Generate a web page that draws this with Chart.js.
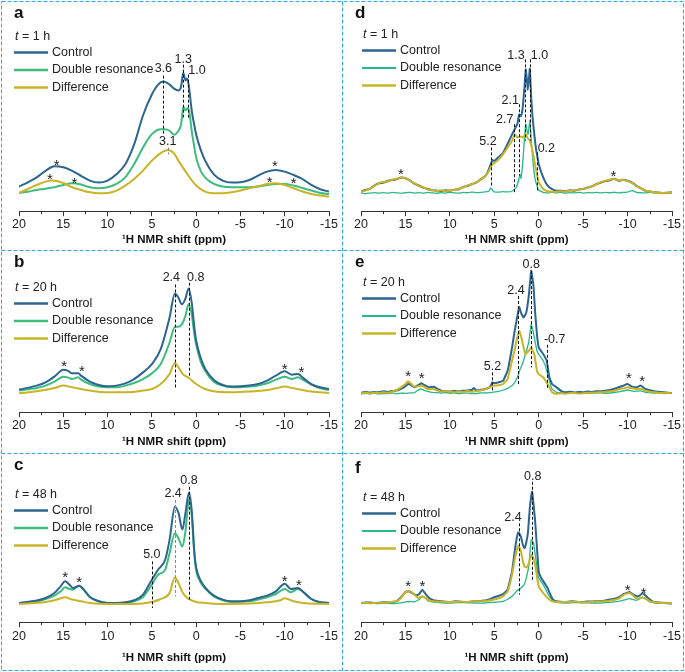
<!DOCTYPE html>
<html>
<head>
<meta charset="utf-8">
<script src="https://cdn.jsdelivr.net/npm/chart.js@4"></script>
<style>
  body { margin: 0; background: #fff; }
  #wrap { position: relative; width: 685px; height: 672px; }
  canvas, svg { position: absolute; left: 0; top: 0; }
</style>
</head>
<body>
<div id="wrap">
  <svg width="685" height="672">
    <g stroke="#29abe2" stroke-width="1" stroke-dasharray="4 2" fill="none">
      <rect x="1.5" y="1.5" width="682" height="669"/>
      <line x1="342.5" y1="1.5" x2="342.5" y2="670.5"/>
      <line x1="1.5" y1="250.5" x2="683.5" y2="250.5"/>
      <line x1="1.5" y1="453.5" x2="683.5" y2="453.5"/>
    </g>
  </svg>
</div>
<script>
// shared axis / legend data
const ppmTicks = [20, 15, 10, 5, 0, -5, -10, -15];
const minorTicks = [17.5, 12.5, 7.5, 2.5, -2.5, -7.5, -12.5];
const seriesNames = ['Control', 'Double resonance', 'Difference'];

// ---- a: t = 1 h (ppm, intensity a.u.)
const aControl = [[20,24.7],[19,29],[18,34],[17,40.5],[16,45],[15,44],[14,40.5],[13,35.5],[12,30.7],[11,28.7],[10,30.7],[9,37],[8,47],[7,67],[6,96],[5,117],[4.3,127],[3.7,130],[3,127],[2.5,123],[2,121],[1.7,125],[1.45,139],[1.2,131],[1.0,133],[0.8,124],[0.5,101],[0.2,86],[0,77],[-0.5,62],[-1,51],[-2,37],[-3,30.7],[-4,28.7],[-5,29],[-6,31.3],[-7,35.7],[-8,39.7],[-9,41.3],[-10,39.7],[-11,36.3],[-12,32.3],[-13,26.3],[-14,22],[-15,19.7]];
const aDouble = [[20,18.3],[19,19.5],[18,21.3],[17,22.5],[16,24],[15,26.3],[14,28],[13,26.7],[12,24],[11,23],[10,24],[9,27.3],[8,34],[7,47.3],[6,64],[5,77.3],[4,82.3],[3.6,82.3],[3,80.7],[2.5,76.7],[2,80.7],[1.7,87],[1.45,104.7],[1.2,101],[1.0,103.3],[0.8,100.7],[0.5,80.7],[0.2,64],[0,54],[-0.5,40.7],[-1,34],[-2,27.3],[-3,24.7],[-4,24],[-5,24],[-6,24],[-7,24.7],[-8,26.3],[-9,27.3],[-10,27.3],[-11,25.7],[-12,23.3],[-13,20.7],[-14,18.3],[-15,17.3]];
const aDiff = [[20,18.3],[19,22.3],[18,26.3],[17,29.7],[16.3,30.7],[15,28.3],[14,24],[13,21.3],[12,19],[11,18],[10,18.3],[9,20.7],[8,25.7],[7,32.3],[6,40.7],[5,50.7],[4,58.3],[3.2,61.3],[2.5,58],[2,50.7],[1,37.3],[0,25.7],[-1,19.7],[-2,18],[-3,18],[-4,19],[-5,20.7],[-6,23],[-7,25],[-8,27.3],[-9,28],[-10,26.3],[-11,23],[-12,19.7],[-13,17.3],[-14,15.7],[-15,14.7]];
const aLines = [[3.7,136,77],[1.45,147,94],[0.95,137,92],[3.2,64,57,'grey']];
const aLabels = [['3.6',3.7,142.7],['1.3',1.45,152],['1.0',-0.1,141],['3.1',3.2,70]];
const aStars = [[15.75,48.3],[16.5,34.7],[13.75,30.7],[-8.9,47.3],[-8.3,31.7],[-11,30.7]];

// ---- b: t = 20 h
const bControl = [[20,22.7],[18,26.7],[17,30],[16,35.7],[15,42.7],[14.5,41.7],[14,39],[13.3,39],[13,36.7],[12,30.7],[11,27.3],[10,26],[9,26.7],[8,29],[7,33.3],[6,40],[5,48.3],[4,63.3],[3,95],[2.4,119.3],[2,115],[1.6,108.3],[1.2,114.3],[0.85,124.3],[0.5,110],[0.2,85],[0,72],[-0.5,55],[-1,44],[-2,32.3],[-3,27.3],[-4,25.7],[-5,26],[-6,26.7],[-7,28.3],[-8,31.7],[-9,36.7],[-10,41],[-10.8,37.7],[-11.5,38.3],[-12,35],[-13,28.3],[-14,25],[-15,23.3]];
const bDouble = [[20,21.7],[18,24.3],[17,26.7],[16,30.7],[15,35.7],[14.5,35],[14,33.3],[13.3,35],[13,32.7],[12,28.3],[11,25.7],[10,25],[9,25],[8,26.7],[7,29.3],[6,33.3],[5,39],[4,48.3],[3,70],[2.4,85.7],[1.9,86],[1.5,90],[1.2,97],[0.85,108.3],[0.5,98],[0.2,78],[0,68],[-0.5,51],[-1,41.7],[-2,30.7],[-3,26.7],[-4,25],[-5,25],[-6,25.7],[-7,26.7],[-8,29],[-9,32.7],[-10,35.7],[-10.8,33.3],[-11.5,35],[-12,32.7],[-13,27.7],[-14,24],[-15,22.3]];
const bDiff = [[20,19],[18,21],[16,24.3],[15,26.7],[14,25],[13,23.3],[12,21.7],[10,20],[8,20],[6,21.7],[5,23.3],[4,28.3],[3,38.3],[2.4,49.3],[2,45],[1.5,38.3],[0.8,34.3],[0,28.3],[-1,23.3],[-2,21],[-4,20],[-6,20.7],[-8,22.3],[-9,24],[-10,25.7],[-11,24],[-12,22.3],[-13,20.7],[-15,19.3]];
const bLines = [[2.35,128.3,23.3],[0.85,130,35]];
const bLabels = [['2.4',2.8,135.7],['0.8',0.05,135.7]];
const bStars = [[14.9,48.3],[12.9,43.3],[-10,45.7],[-11.9,42.7]];

// ---- c: t = 48 h
const cControl = [[20,19.3],[18,21.7],[17,24.3],[16,29.3],[15.3,36],[14.8,41],[14.3,37.7],[13.9,34.3],[13.2,36.7],[12.7,32.7],[12,25.3],[11,21],[10,19.3],[9,19.3],[8,20],[7,22],[6,27.7],[5,42.7],[4.3,52.7],[3.5,62.7],[3,82.7],[2.4,116],[2,110],[1.55,93],[1.2,110],[0.8,130.3],[0.5,112],[0.2,70],[0,55],[-0.5,42],[-1,35],[-2,26.7],[-3,22.7],[-4,21],[-5,21],[-6,22],[-7,24.3],[-8,26.7],[-9,31],[-10,38.7],[-10.7,33.3],[-11.5,34.3],[-12,31],[-13,23.3],[-14,20],[-15,19.3]];
const cDouble = [[20,19.3],[18,21],[17,23.3],[16,26.7],[15.3,31],[14.8,35],[14.3,33.3],[13.9,32.7],[13.2,36.7],[12.7,32.7],[12,25.3],[11,21],[10,19.3],[8,19.3],[7,21],[6,25.3],[5,37.7],[4.3,47.7],[3.5,52.7],[3,69.3],[2.4,89.3],[2,84.3],[1.55,76],[1.2,92],[0.8,122.7],[0.5,108],[0.2,68],[0,52],[-0.5,40],[-1,34],[-2,26],[-3,22],[-4,20.3],[-6,21],[-7,22.7],[-8,25],[-9,28.3],[-10,33.3],[-10.7,30],[-11.5,33.3],[-12,31],[-13,23.3],[-14,20],[-15,19.3]];
const cDiff = [[20,18.3],[17,20.3],[16,22],[14.8,25],[14,22.7],[13,21],[12,19.3],[10,18.3],[7,18.3],[5,20.3],[4,23.3],[3,29.3],[2.4,45],[2,39.3],[1.5,29.3],[1,24.3],[0,20.3],[-1,19.3],[-3,18.3],[-6,18.7],[-8,20],[-9.5,22],[-10,24],[-11,21],[-12,19.3],[-15,18.3]];
const cLines = [[5.0,61,14.3],[2.4,122.7,26,'grey'],[0.8,136,21]];
const cLabels = [['5.0',5.0,67.7],['2.4',2.6,129.3],['0.8',0.8,142.7]];
const cStars = [[14.8,47.7],[13.2,42.7],[-10,43.3],[-11.6,39.3]];

// ---- d: t = 1 h (difference spectra, noisy)
const dControl = [[20,19.7],[19.5,21.2],[19,22.3],[18.5,25.8],[18,28],[17.5,28.6],[17,30.3],[16.5,31.2],[16,32],[15.5,33.8],[15,33],[14.5,30.9],[14,27.6],[13.5,25.8],[13,23.7],[12.5,22.3],[12,21.1],[11.5,20.7],[11,20.3],[10.5,20.9],[10,20.4],[9.5,21.6],[9,22.1],[8.5,24.2],[8,25.5],[7.5,27.3],[7,28.8],[6.5,32.2],[6,35.5],[5.7,40],[5.4,47],[5.2,51.3],[5,50.4],[4.5,54.3],[4,58.7],[3.5,67.6],[3,77],[2.7,82.3],[2.4,87.6],[2.2,97],[2.0,95.5],[1.8,104],[1.6,125],[1.45,142.3],[1.22,122],[1.0,143],[0.85,115],[0.7,95],[0.5,77.3],[0.3,62],[0.2,57.3],[0,47.3],[-0.5,34],[-1,25.7],[-1.5,22.2],[-2,20.5],[-2.5,20.4],[-3,19.8],[-3.5,21.1],[-4,20.6],[-4.5,21.7],[-5,22.2],[-5.5,23.7],[-6,25],[-6.5,27.2],[-7,28.8],[-7.5,30.2],[-8,31.1],[-8.5,32.5],[-9,30.6],[-9.5,31.6],[-10,30.5],[-10.5,28.7],[-11,25.5],[-11.5,23.2],[-12,20.6],[-12.5,19.7],[-13,18.9],[-13.5,18.6],[-14,18.1],[-14.5,18.6],[-15,19]];
const dDouble = [[20,18.3],[19.5,17.6],[19,18.1],[18.5,18.7],[18,18],[17.5,18.6],[17,18.1],[16.5,18.8],[16,18.4],[15.5,17.9],[15,18.5],[14.5,18.9],[14,18.2],[13.5,18.7],[13,18.1],[12.5,18.8],[12,18.3],[11.5,17.9],[11,18.6],[10.5,18.2],[10,18.9],[9.5,18.4],[9,18.1],[8.5,18.8],[8,18.5],[7.5,19.1],[7,18.6],[6.5,18.9],[6,19.4],[5.6,20],[5.4,23.5],[5.2,21],[5,19.5],[4.5,19.2],[4,19.6],[3.5,19.3],[3,20],[2.7,22.3],[2.5,24],[2.3,30],[2.1,37],[2.0,33],[1.8,48],[1.6,74],[1.45,87.3],[1.3,80],[1.2,77],[1.0,90.7],[0.8,67.3],[0.6,45],[0.4,32],[0.2,25.7],[0,21.3],[-0.5,19],[-1,18.4],[-1.5,18.8],[-2,18.3],[-2.5,18.9],[-3,18.1],[-3.5,18.6],[-4,18.3],[-4.5,18.9],[-5,18.2],[-5.5,18.7],[-6,18.4],[-6.5,18.9],[-7,18.3],[-7.5,18.8],[-8,18.5],[-8.5,19],[-9,18.4],[-9.5,18.9],[-10,19.2],[-10.5,20.7],[-11,19],[-11.5,18.5],[-12,18.3],[-12.5,18.8],[-13,18.4],[-13.5,18.9],[-14,18.2],[-14.5,18.6],[-15,18.4]];
const dDiff = [[20,19.4],[19.5,20.6],[19,22.6],[18.5,25.2],[18,28.2],[17.5,29.3],[17,29.7],[16.5,31.5],[16,32.6],[15.5,33.2],[15,33.5],[14.5,30.4],[14,28.2],[13.5,25.2],[13,24.2],[12.5,21.8],[12,21.4],[11.5,20.2],[11,20.9],[10.5,20.1],[10,20.9],[9.5,21.2],[9,22.5],[8.5,23.8],[8,25.9],[7.5,27],[7,29.2],[6.5,31.7],[6,35],[5.7,39],[5.4,44],[5.2,47.3],[5,48.2],[4.5,52],[4,57.3],[3.5,64],[3,70.7],[2.7,77.3],[2.4,74],[2.1,75],[1.8,74],[1.6,75.7],[1.45,77.3],[1.3,74],[1.0,70.7],[0.7,60.7],[0.5,50.7],[0.2,37.3],[0,29],[-0.5,22.3],[-1,20],[-1.5,19.4],[-2,19.6],[-2.5,20.1],[-3,19.6],[-3.5,20.8],[-4,20.9],[-4.5,21.4],[-5,22.5],[-5.5,23.4],[-6,25.3],[-6.5,26.8],[-7,29.1],[-7.5,30.5],[-8,31.5],[-8.5,32.2],[-9,30.8],[-9.5,31.3],[-10,30.2],[-10.5,28.3],[-11,25.2],[-11.5,22.8],[-12,20.9],[-12.5,19.5],[-13,19.1],[-13.5,18.4],[-14,18.3],[-14.5,18.4],[-15,19.2]];
const dLines = [[1.5,152.3,70.7],[1.0,152.3,70.7],[2.25,107.3,35.7],[2.8,87.3,18],[5.4,64,24],[0.2,59,20.7]];
const dLabels = [['1.3',2.56,155.7],['1.0',-0.08,155.7],['2.1',3.2,111.3],['2.7',3.83,92.3],['5.2',5.71,70],['0.2',-0.86,63.3]];
const dStars = [[15.5,39],[-8.4,37.3]];

// ---- e: t = 20 h
const eControl = [[20,19.3],[19.5,20.5],[19,19.6],[18.5,20.3],[18,20],[17.5,21],[17,20.4],[16.5,21.2],[16,21.7],[15.5,23.5],[15,26],[14.7,28.3],[14.3,27],[14,25],[13.5,27.5],[13.2,29],[12.8,27],[12.3,25],[11.8,25.5],[11.3,23],[11,21.7],[10.5,21],[10,20.7],[9.5,21.3],[9,21],[8.5,21.5],[8,21.7],[7.5,22.5],[7.3,24.3],[7,21.7],[6.5,22.5],[6,23.3],[5.5,25],[5.2,30],[5,29],[4.5,30],[4,31.7],[3.5,41.7],[3,65],[2.7,82],[2.5,91.7],[2.2,105.7],[2.0,100],[1.7,95],[1.4,100],[1.1,118.3],[0.85,142],[0.6,128],[0.4,100],[0.2,78.3],[0,65],[-0.3,61],[-0.6,57],[-0.9,51.7],[-1.2,35],[-1.5,28.3],[-2,25],[-2.5,21.5],[-3,20],[-3.5,20.6],[-4,19.8],[-4.5,20.4],[-5,20],[-5.5,20.8],[-6,20.3],[-6.5,21],[-7,21],[-7.5,21.6],[-8,22.3],[-8.5,23.5],[-9,25],[-9.5,26.5],[-10,28.3],[-10.5,25.7],[-11,25],[-11.5,26.7],[-12,23.3],[-12.5,22],[-13,21],[-13.5,20.5],[-14,20],[-14.5,19.5],[-15,19.3]];
const eDouble = [[20,18.3],[19.5,18.9],[19,18.5],[18.5,19.1],[18,18.2],[17.5,18.8],[17,18.7],[16.5,19.2],[16,18.5],[15.5,19.1],[15,19],[14.5,19.4],[14,19.5],[13.7,21.5],[13.3,23.3],[12.9,22],[12.5,21],[12,20],[11.5,19.6],[11,19.3],[10.5,19.7],[10,19],[9.5,19.4],[9,18.6],[8.5,19.2],[8,19.1],[7.5,18.6],[7,18.7],[6.5,19.4],[6,19.3],[5.5,19.6],[5.2,20],[4.5,21],[4,22.3],[3.5,24],[3,26.7],[2.7,30],[2.4,35],[2.1,43],[2,45],[1.7,52],[1.5,58.3],[1.3,64],[1.1,71.7],[0.85,88.3],[0.6,80],[0.5,75],[0.2,61.7],[0,58.3],[-0.5,51.7],[-0.8,45],[-1.2,31.7],[-1.5,23.3],[-2,20],[-2.5,19.5],[-3,19.2],[-3.5,19.6],[-4,18.8],[-4.5,19.4],[-5,19.3],[-5.5,18.9],[-6,18.9],[-6.5,19.5],[-7,19.4],[-7.5,19],[-8,19.3],[-8.5,19.8],[-9,20.5],[-9.5,21.3],[-10,22.3],[-10.7,21],[-11.5,21.5],[-12,20],[-12.5,19.6],[-13,19.2],[-13.5,19.5],[-14,18.8],[-14.5,19.2],[-15,19]];
const eDiff = [[20,19],[19.5,19.8],[19,18.8],[18.5,19.6],[18,19.2],[17.5,20],[17,19.5],[16.5,20.6],[16,22.3],[15.5,25],[15,28.3],[14.7,31],[14.3,28],[14,25.7],[13.5,26],[13.2,26.7],[12.8,25],[12.5,23.3],[12,23.5],[11.5,22],[11,20.7],[10.5,21.2],[10,20.5],[9.5,20.1],[9,20.7],[8.5,20.4],[8,21.2],[7.5,20.6],[7,21],[6.5,22],[6,23],[5.5,25],[5,26.7],[4.5,27],[4,28.3],[3.5,33.3],[3,51.7],[2.7,63],[2.5,71.7],[2.2,81.7],[2,76.7],[1.7,65],[1.5,58.3],[1.3,60],[1.1,61.7],[0.85,65],[0.5,58.3],[0.2,41.7],[0,38.3],[-0.5,35],[-1,28.3],[-1.5,20],[-2,18.3],[-2.5,19],[-3,18.5],[-3.5,19.2],[-4,19.3],[-4.5,18.8],[-5,19],[-5.5,19.6],[-6,19.5],[-6.5,19.9],[-7,20],[-7.5,20.3],[-8,21],[-8.5,21.6],[-9,23],[-9.5,23.8],[-10,25],[-10.5,24],[-11,23.3],[-11.5,23.5],[-12,21.7],[-12.5,20.6],[-13,20],[-13.5,19.6],[-14,19.3],[-14.5,19.6],[-15,19]];
const eLines = [[0.9,141.7,45],[2.33,116.7,28.3],[-0.9,67.7,23.3],[5.26,40,20]];
const eLabels = [['0.8',0.85,148.3],['2.4',2.55,122.3],['-0.7',-1.8,73.3],['5.2',5.2,46]];
const eStars = [[14.7,38.3],[13.16,36],[-10.15,36.3],[-11.65,33.3]];

// ---- f: t = 48 h
const fControl = [[20,19.3],[19.5,19.7],[19,19.8],[18.5,19.2],[18,19.4],[17.5,20.1],[17,20],[16.5,20.3],[16,21],[15.5,25],[15,30.3],[14.6,31],[14.2,29],[13.8,27],[13.5,27.7],[13.1,32.7],[12.7,28],[12.3,24],[12,22.7],[11.5,21.5],[11,21],[10.5,20.6],[10,20.3],[9.5,20.9],[9,20.8],[8.5,20.4],[8,20.3],[7.5,20.9],[7,21],[6.5,21.4],[6,21.7],[5.5,23],[5,25],[4.5,26.5],[4,28.3],[3.5,32.7],[3,51],[2.6,77.7],[2.3,90.3],[2,86],[1.8,78],[1.6,74.3],[1.4,80],[1.2,91],[1.0,115],[0.75,131],[0.6,120],[0.4,101],[0.2,75],[0,51],[-0.3,44],[-0.6,40],[-1,34.3],[-1.3,28],[-1.6,23],[-2,21],[-2.5,20.6],[-3,20.4],[-3.5,20.9],[-4,20.8],[-4.5,20.2],[-5,20.3],[-5.5,20.9],[-6,20.8],[-6.5,21.1],[-7,21.3],[-7.5,21.9],[-8,22.7],[-8.5,23.5],[-9,25],[-9.5,28],[-9.9,29.3],[-10.2,30.3],[-10.6,28],[-11,26],[-11.4,27],[-11.7,29.3],[-12,27],[-12.3,24.3],[-12.7,21.5],[-13,20.3],[-13.5,19.8],[-14,19.5],[-14.5,19.1],[-15,18.7]];
const fDouble = [[20,18.7],[19.5,19.1],[19,19.2],[18.5,18.8],[18,18.7],[17.5,19.2],[17,19.1],[16.5,18.6],[16,18.8],[15.5,19.4],[15,20.3],[14.5,20.8],[14,20.5],[13.5,22.5],[13.1,26],[12.7,24],[12.5,21.7],[12,20.5],[11.5,19.9],[11,19.5],[10.5,19.1],[10,19.3],[9,19.6],[8,19.5],[7,19.1],[6,19.3],[5.5,19.8],[5,20],[4.5,20.4],[4,21],[3.5,23],[3,26],[2.5,31],[2,34.3],[1.7,37],[1.5,41],[1.3,48],[1.1,57.7],[0.85,82.7],[0.6,80],[0.5,74.3],[0.3,62],[0.2,54.3],[0,44.3],[-0.5,37.7],[-0.8,32.7],[-1.2,26],[-1.7,21],[-2,20],[-3,19.3],[-4,19.7],[-5,19.5],[-6,19.2],[-7,19.3],[-8,19.9],[-9,21],[-9.7,22.5],[-10.2,23.7],[-11,22],[-11.7,25],[-12.5,20.3],[-13,19.5],[-14,19.1],[-15,18.7]];
const fDiff = [[20,19.3],[19.5,19.5],[19,19],[18.5,19.4],[18,19.6],[17.5,19.7],[17,20],[16.5,20.4],[16,21],[15.5,24.3],[15,30],[14.6,31],[14.2,29.5],[13.8,26],[13.5,24.3],[13.1,26],[12.7,24],[12.3,22],[12,21],[11.5,20.8],[11,20.5],[10.5,20.2],[10,20.3],[9,20.6],[8,20.3],[7,21],[6,21.3],[5.5,22],[5,22.7],[4.5,24],[4,26],[3.5,31],[3,47.7],[2.6,67.7],[2.3,77],[2,71],[1.8,62],[1.6,56],[1.4,55],[1.2,57],[1.0,63],[0.8,67.7],[0.6,64],[0.4,57.7],[0.2,46],[0,36],[-0.5,29.3],[-1,24.3],[-1.5,21],[-2,20.3],[-3,20.2],[-4,20.5],[-5,20.1],[-6,20.3],[-7,20.7],[-8,21.5],[-9,23.7],[-9.7,28.3],[-10.2,29.3],[-10.6,27],[-11,23.7],[-11.7,25],[-12.2,23],[-12.5,21],[-13,20],[-14,19.3],[-15,18.7]];
const fLines = [[0.75,141,41],[2.26,99.3,27.7]];
const fLabels = [['0.8',0.68,146],['2.4',2.9,105]];
const fStars = [[14.7,38.3],[13.1,38.3],[-10,34.3],[-11.8,31]];

const FONT = '"Liberation Sans", Arial, sans-serif';
const colors = ['#2c6590', '#3dbd7d', '#c9b326'];
const colorsNoisy = ['#2c6590', '#27b98a', '#c9b326'];

// layout of the six boxes
const cols = [{ left: 1, w: 342, padL: 18, padR: 14, legX: 13 }, { left: 342, w: 343, padL: 19, padR: 13, legX: 20 }];
const rows = [
  { top: 1, h: 250, padB: 4, tickPad: 1, titleTop: 0, ymax: 190.8 },
  { top: 250, h: 204, padB: 5, tickPad: 1, titleTop: 1, ymax: 142.8 },
  { top: 453, h: 219, padB: 7, tickPad: 2, titleTop: 5, ymax: 149.8 }
];

const panels = [
  { letter: 'a', col: 0, row: 0, time: '1 h', legY: 36, series: [aControl, aDouble, aDiff], lines: aLines, labels: aLabels, stars: aStars },
  { letter: 'b', col: 0, row: 1, time: '20 h', legY: 38, series: [bControl, bDouble, bDiff], lines: bLines, labels: bLabels, stars: bStars },
  { letter: 'c', col: 0, row: 2, time: '48 h', legY: 42, series: [cControl, cDouble, cDiff], lines: cLines, labels: cLabels, stars: cStars },
  { letter: 'd', col: 1, row: 0, time: '1 h', legY: 34, series: [dControl, dDouble, dDiff], lines: dLines, labels: dLabels, stars: dStars, noisy: true },
  { letter: 'e', col: 1, row: 1, time: '20 h', legY: 33, series: [eControl, eDouble, eDiff], lines: eLines, labels: eLabels, stars: eStars, noisy: true },
  { letter: 'f', col: 1, row: 2, time: '48 h', legY: 45, series: [fControl, fDouble, fDiff], lines: fLines, labels: fLabels, stars: fStars, noisy: true }
];

function deco(p, col, cls) {
  return {
    id: 'deco' + p.letter,
    afterDraw(chart) {
      const { ctx, chartArea } = chart;
      const x = chart.scales.x, y = chart.scales.y;
      ctx.save();
      // minor ticks
      ctx.strokeStyle = '#333';
      ctx.lineWidth = 1;
      minorTicks.forEach(v => {
        const px = Math.round(x.getPixelForValue(v)) + 0.5;
        ctx.beginPath();
        ctx.moveTo(px, chartArea.bottom);
        ctx.lineTo(px, chartArea.bottom + 3);
        ctx.stroke();
      });
      // dashed peak markers
      ctx.setLineDash([3, 2]);
      p.lines.forEach(([v, y1, y2, grey]) => {
        const px = Math.round(x.getPixelForValue(v)) + 0.5;
        ctx.strokeStyle = grey ? '#8a8a8a' : '#111';
        ctx.beginPath();
        ctx.moveTo(px, y.getPixelForValue(y1));
        ctx.lineTo(px, y.getPixelForValue(y2));
        ctx.stroke();
      });
      ctx.setLineDash([]);
      ctx.fillStyle = '#222';
      ctx.font = '12.5px ' + FONT;
      ctx.textAlign = 'center';
      ctx.textBaseline = 'middle';
      p.labels.forEach(([t, v, h]) => ctx.fillText(t, x.getPixelForValue(v), y.getPixelForValue(h)));
      ctx.font = '15px ' + FONT;
      ctx.textBaseline = 'alphabetic';
      p.stars.forEach(([v, h]) => ctx.fillText('*', x.getPixelForValue(v), y.getPixelForValue(h) + 7));
      // panel letter
      ctx.fillStyle = '#111';
      ctx.font = 'bold 17px ' + FONT;
      ctx.textAlign = 'left';
      ctx.textBaseline = 'middle';
      ctx.fillText(p.letter, 13, p.letter === 'f' ? 15 : 12);
      // legend
      const lx = col.legX, ly = p.legY;
      ctx.fillStyle = '#222';
      ctx.font = 'italic 12.5px ' + FONT;
      ctx.fillText('t', lx + 1, ly);
      const tw = ctx.measureText('t').width;
      ctx.font = '12.5px ' + FONT;
      ctx.fillText(' = ' + p.time, lx + 1 + tw, ly);
      const offs = [15.5, 33, 50.5];
      seriesNames.forEach((n, i) => {
        const yy = ly + offs[i];
        ctx.strokeStyle = cls[i];
        ctx.lineWidth = p.noisy && i === 1 ? 1.8 : 2.5;
        ctx.beginPath();
        ctx.moveTo(lx, yy);
        ctx.lineTo(lx + 34, yy);
        ctx.stroke();
        ctx.fillText(n, lx + 38, yy);
      });
      ctx.restore();
    }
  };
}

const wrap = document.getElementById('wrap');
panels.forEach(p => {
  const col = cols[p.col], row = rows[p.row];
  const cv = document.createElement('canvas');
  cv.width = col.w; cv.height = row.h;
  Object.assign(cv.style, { left: col.left + 'px', top: row.top + 'px', width: col.w + 'px', height: row.h + 'px' });
  wrap.appendChild(cv);
  const cls = p.noisy ? colorsNoisy : colors;
  const widths = p.noisy ? [2, 1.3, 2] : [2, 2, 2];
  new Chart(cv, {
    type: 'line',
    data: {
      datasets: p.series.map((s, i) => ({
        label: seriesNames[i],
        data: s.map(([px, py]) => ({ x: px, y: py })),
        borderColor: cls[i],
        borderWidth: widths[i],
        pointRadius: 0,
        fill: false,
        cubicInterpolationMode: p.noisy ? 'default' : 'monotone',
        tension: p.noisy ? 0.1 : 0,
        order: [1, 2, 0][i]
      }))
    },
    options: {
      responsive: false,
      animation: false,
      devicePixelRatio: 1,
      layout: { padding: { left: col.padL, right: col.padR, top: 20, bottom: row.padB } },
      plugins: { legend: { display: false }, tooltip: { enabled: false } },
      scales: {
        x: {
          type: 'linear', min: -15, max: 20, reverse: true,
          afterBuildTicks: s => { s.ticks = ppmTicks.map(v => ({ value: v })); },
          grid: { display: true, drawOnChartArea: false, drawTicks: true, tickLength: 5, tickColor: '#333' },
          border: { display: true, color: '#333', width: 1 },
          ticks: { color: '#222', font: { size: 12.5, family: FONT }, padding: row.tickPad, maxRotation: 0, autoSkip: false, callback: v => String(v) },
          title: { display: true, text: '¹H NMR shift (ppm)', color: '#111', font: { size: 11.5, weight: 'bold', family: FONT }, padding: { top: row.titleTop, bottom: 0 } }
        },
        y: { display: false, min: 0, max: row.ymax }
      }
    },
    plugins: [deco(p, col, cls)]
  });
});
</script>
</body>
</html>
